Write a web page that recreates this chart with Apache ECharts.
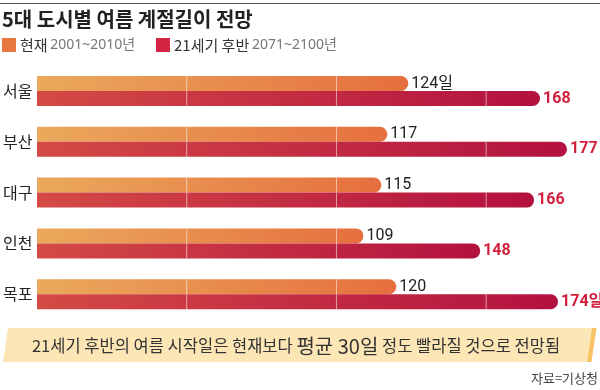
<!DOCTYPE html>
<html><head><meta charset="utf-8">
<script src="https://cdn.jsdelivr.net/npm/echarts@6/dist/echarts.min.js"></script>
<style>html,body{margin:0;padding:0;background:#fff}#c{width:600px;height:390px}</style>
</head><body><div id="c"></div>
<script>
const cities = ['서울', '부산', '대구', '인천', '목포'];
const current = [124, 117, 115, 109, 120];
const future = [168, 177, 166, 148, 174];
const gridTicks = [50, 100, 150];
const currentUnitIndex = 0;
const futureUnitIndex = 4;
const legendCurrent = ['현재', '2001~2010년'];
const legendFuture = ['21세기 후반', '2071~2100년'];

const KR = "'Noto Sans CJK KR', 'Noto Sans', sans-serif";
const BAR_H = 15;

function makeRender(kind) {
  return function (params, api) {
    const v = api.value(0);
    const cat = api.value(1);
    const start = api.coord([0, cat]);
    const end = api.coord([v, cat]);
    const yTop = kind === 'cur' ? start[1] - BAR_H : start[1];
    const w = end[0] - start[0];
    const fill = kind === 'cur'
      ? new echarts.graphic.LinearGradient(0, 0, 1, 0, [{offset: 0, color: '#eaa95c'}, {offset: 1, color: '#e66f3e'}])
      : new echarts.graphic.LinearGradient(0, 0, 1, 0, [{offset: 0, color: '#d44a45'}, {offset: 1, color: '#b31140'}]);
    const children = [{
      type: 'rect',
      shape: {x: start[0], y: yTop, width: w, height: BAR_H, r: [0, BAR_H / 2, BAR_H / 2, 0]},
      style: {fill: fill}
    }];
    gridTicks.forEach(t => {
      if (t < v - 3) {
        const p = api.coord([t, cat]);
        children.push({
          type: 'line',
          shape: {x1: p[0], y1: yTop, x2: p[0], y2: yTop + BAR_H},
          style: {stroke: 'rgba(255,255,255,0.55)', lineWidth: 1}
        });
      }
    });
    const idx = params.dataIndex;
    let txt = String(v);
    if (kind === 'cur' && idx === currentUnitIndex) txt += '일';
    if (kind === 'fut' && idx === futureUnitIndex) txt += '일';
    children.push({
      type: 'text',
      style: {
        text: txt,
        x: end[0] + 3,
        y: yTop + BAR_H / 2,
        align: 'left',
        verticalAlign: 'middle',
        fill: kind === 'cur' ? '#222' : '#d2213e',
        fontSize: 16,
        fontWeight: kind === 'cur' ? 'normal' : 'bold',
        fontFamily: kind === 'cur' ? "'Liberation Sans Narrow', Roboto, 'Noto Sans CJK KR', sans-serif" : "Roboto, 'Noto Sans CJK KR', sans-serif"
      }
    });
    return {type: 'group', children: children};
  };
}

const legendRich = {
  a: {fontSize: 15, fill: '#333', fontFamily: KR},
  b: {fontSize: 14, fill: '#777', fontFamily: "'Noto Sans', 'Noto Sans CJK KR', sans-serif"}
};

const chart = echarts.init(document.getElementById('c'), null, {renderer: 'canvas'});
chart.setOption({
  animation: false,
  backgroundColor: '#fff',
  grid: {left: 36, right: 24, top: 65.6, bottom: 70.4, containLabel: false},
  xAxis: {type: 'value', min: 0, max: 180, show: false},
  yAxis: {
    type: 'category', data: cities, inverse: true,
    axisLine: {show: false}, axisTick: {show: false}, splitLine: {show: false},
    axisLabel: {align: 'left', margin: 34, color: '#222', fontSize: 16, fontFamily: KR}
  },
  series: [{
    name: legendCurrent[0], type: 'custom', renderItem: makeRender('cur'),
    itemStyle: {color: '#e8783f'},
    encode: {x: 0, y: 1},
    data: current.map((v, i) => [v, cities[i]])
  }, {
    name: legendFuture[0], type: 'custom', renderItem: makeRender('fut'),
    itemStyle: {color: '#d42544'},
    encode: {x: 0, y: 1},
    data: future.map((v, i) => [v, cities[i]])
  }],
  graphic: [
    {type: 'line', shape: {x1: 0, y1: 3.5, x2: 600, y2: 3.5}, style: {stroke: '#555', lineWidth: 1}},
    {type: 'text', left: 2, top: 9, style: {text: '5대 도시별 여름 계절길이 전망', fontSize: 20, fontWeight: 'bold', fill: '#222', fontFamily: KR}},
    {type: 'rect', shape: {x: 2, y: 38, width: 14, height: 14}, style: {fill: '#e8783f'}},
    {type: 'text', x: 20, y: 45.5, style: {text: '{a|' + legendCurrent[0] + '} {b|' + legendCurrent[1] + '}', verticalAlign: 'middle', fontFamily: KR, rich: legendRich}},
    {type: 'rect', shape: {x: 156, y: 38, width: 14, height: 14}, style: {fill: '#d42544'}},
    {type: 'text', x: 174, y: 45.5, style: {text: '{a|' + legendFuture[0] + '} {b|' + legendFuture[1] + '}', verticalAlign: 'middle', fontFamily: KR, rich: legendRich}},
    {type: 'polygon', shape: {points: [[8, 328], [592, 328], [587, 362], [3, 362]]}, style: {fill: '#fde6b6'}},
    {type: 'polygon', shape: {points: [[592, 328], [596.5, 328], [591.5, 362], [587, 362]]}, style: {fill: '#f6c365'}},
    {type: 'text', x: 296, y: 346, style: {
      text: '{a|21세기 후반의 여름 시작일은 현재보다 }{b|평균 30일}{a| 정도 빨라질 것으로 전망됨}',
      align: 'center', verticalAlign: 'middle', fontFamily: KR,
      rich: {a: {fontSize: 16.5, fill: '#333', fontFamily: KR}, b: {fontSize: 20, fill: '#333', fontFamily: KR}}
    }},
    {type: 'text', x: 598, y: 378, style: {text: '자료=기상청', align: 'right', verticalAlign: 'middle', fontSize: 13, fill: '#444', fontFamily: KR}}
  ]
});
</script></body></html>
